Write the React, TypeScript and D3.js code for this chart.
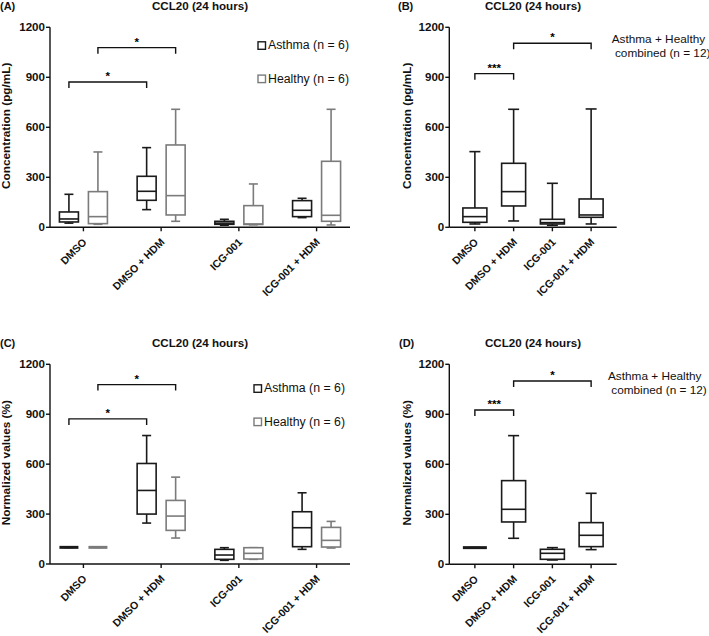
import React from "react";
import * as d3 from "d3";

const categories = ["DMSO", "DMSO + HDM", "ICG-001", "ICG-001 + HDM"];
const yTicks = [0, 300, 600, 900, 1200];

// box stats: [min, q1, median, q3, max]
const concAsthma = [
  [25, 32, 50, 92, 198],
  [106, 162, 216, 306, 478],
  [12, 18, 25, 36, 48],
  [58, 64, 102, 160, 174],
];
const concHealthy = [
  [18, 22, 64, 214, 452],
  [36, 74, 190, 494, 708],
  [15, 17, 20, 130, 260],
  [14, 36, 72, 396, 708],
];
const concCombined = [
  [20, 30, 64, 116, 454],
  [38, 128, 214, 384, 708],
  [12, 20, 28, 48, 264],
  [20, 60, 74, 170, 710],
];
const normAsthma = [
  [100, 100, 100, 100, 100],
  [246, 300, 442, 604, 772],
  [22, 28, 54, 88, 98],
  [88, 104, 218, 314, 428],
];
const normHealthy = [
  [100, 100, 100, 100, 100],
  [156, 202, 288, 382, 522],
  [28, 30, 64, 98, 98],
  [96, 102, 142, 220, 256],
];
const normCombined = [
  [100, 100, 100, 100, 100],
  [156, 254, 330, 502, 772],
  [26, 30, 66, 90, 100],
  [88, 106, 174, 250, 426],
];

// significance brackets: from category, to category, series index, level, label
const bracketsGrouped = [
  { from: 0, to: 1, series: 0, level: 872, label: "*" },
  { from: 0, to: 1, series: 1, level: 1078, label: "*" },
];
const bracketsCombinedConc = [
  { from: 0, to: 1, series: 0, level: 922, label: "***" },
  { from: 1, to: 3, series: 0, level: 1104, label: "*" },
];
const bracketsCombinedNorm = [
  { from: 0, to: 1, series: 0, level: 926, label: "***" },
  { from: 1, to: 3, series: 0, level: 1100, label: "*" },
];

const groupLegend = ["Asthma (n = 6)", "Healthy (n = 6)"];
const combinedLegend = ["Asthma + Healthy", "\u00a0combined (n = 12)"];

const FONT = "Liberation Sans, Arial, sans-serif";
const DARK = "#1a1a1a";
const GRAY = "#7b7b7b";

const T = (p: any) => <text {...p} style={{ fontFamily: FONT }} />;

type Series = { data: number[][]; color: string; offset: number };

function Panel(props: {
  letter: string;
  letterX: number;
  x0: number;
  x1: number;
  y0: number;
  y1: number;
  padding: number;
  yLabel: string;
  yLabelX: number;
  series: Series[];
  boxW: number;
  capW: number;
  brackets: { from: number; to: number; series: number; level: number; label: string }[];
  legend: React.ReactNode;
}) {
  const { x0, x1, y0, y1, padding, series, boxW, capW } = props;
  const x = d3.scalePoint<string>().domain(categories).range([x0, x1]).padding(padding);
  const y = d3.scaleLinear().domain([0, 1200]).range([y0, y1]);
  const titleY = y1 - 17.5;
  return (
    <g>
      <T x={props.letterX} y={titleY} fontSize={11} fontWeight="bold" fill="#111">
        {props.letter}
      </T>
      <T x={(x0 + x1) / 2} y={titleY} fontSize={11.6} fontWeight="bold" textAnchor="middle" fill="#111">
        CCL20 (24 hours)
      </T>
      <T
        transform={`translate(${props.yLabelX},${(y0 + y1) / 2 - 1.5}) rotate(-90)`}
        fontSize={11.8}
        fontWeight="bold"
        textAnchor="middle"
        fill="#111"
      >
        {props.yLabel}
      </T>
      {/* y axis */}
      <line x1={x0} x2={x0} y1={y0} y2={y1} stroke="#111" strokeWidth={1.4} />
      {yTicks.map((t) => (
        <g key={t}>
          <line x1={x0 - 4} x2={x0} y1={y(t)} y2={y(t)} stroke="#111" strokeWidth={1.4} />
          <T x={x0 - 5} y={y(t)} dy="0.36em" fontSize={11.6} fontWeight="bold" textAnchor="end" fill="#111">
            {t}
          </T>
        </g>
      ))}
      {/* x axis */}
      <line x1={x0} x2={x1} y1={y0} y2={y0} stroke="#111" strokeWidth={1.4} />
      {categories.map((c) => (
        <g key={c}>
          <line x1={x(c)!} x2={x(c)!} y1={y0} y2={y0 + 4} stroke="#111" strokeWidth={1.4} />
          <T
            transform={`translate(${x(c)! + 4},${y0 + 15.5}) rotate(-45)`}
            fontSize={10.6}
            fontWeight="bold"
            textAnchor="end"
            fill="#111"
          >
            {c}
          </T>
        </g>
      ))}
      {/* boxes */}
      {series.map((s, si) =>
        s.data.map((d, ci) => {
          const cx = x(categories[ci])! + s.offset;
          const [mn, q1, md, q3, mx] = d;
          return (
            <g key={`${si}-${ci}`} stroke={s.color} strokeWidth={1.6} fill="none">
              <line x1={cx} x2={cx} y1={y(q3)} y2={y(mx)} />
              <line x1={cx} x2={cx} y1={y(q1)} y2={y(mn)} />
              <line x1={cx - capW / 2} x2={cx + capW / 2} y1={y(mx)} y2={y(mx)} />
              <line x1={cx - capW / 2} x2={cx + capW / 2} y1={y(mn)} y2={y(mn)} />
              <rect x={cx - boxW / 2} y={y(q3)} width={boxW} height={Math.max(0, y(q1) - y(q3))} fill="#fff" />
              <line x1={cx - boxW / 2} x2={cx + boxW / 2} y1={y(md)} y2={y(md)} strokeWidth={q1 === q3 ? 3 : 1.6} />
            </g>
          );
        })
      )}
      {/* brackets */}
      {props.brackets.map((b, i) => {
        const off = series[b.series].offset;
        const xa = x(categories[b.from])! + off;
        const xb = x(categories[b.to])! + off;
        const yy = y(b.level);
        return (
          <g key={i}>
            <path d={`M${xa},${yy + 6}V${yy}H${xb}V${yy + 6}`} fill="none" stroke="#111" strokeWidth={1.4} />
            <T x={(xa + xb) / 2} y={yy - 2} fontSize={11.5} fontWeight="bold" textAnchor="middle" fill="#000" opacity={0.999}>
              {b.label}
            </T>
          </g>
        );
      })}
      {props.legend}
    </g>
  );
}

function GroupLegend({ x, y }: { x: number; y: number }) {
  const colors = [DARK, GRAY];
  return (
    <g>
      {groupLegend.map((t, i) => (
        <g key={t}>
          <rect x={x} y={y + i * 33.3 - 7.5} width={7.5} height={7.5} fill="#fff" stroke={colors[i]} strokeWidth={1.4} />
          <T x={x + 10} y={y + i * 33.3} fontSize={12.3} fill="#111">
            {t}
          </T>
        </g>
      ))}
    </g>
  );
}

function CombinedLegend({ x, y }: { x: number; y: number }) {
  return (
    <g>
      <T x={x} y={y} fontSize={11.8} fill="#111">
        {combinedLegend[0]}
      </T>
      <T x={x} y={y + 14} fontSize={11.8} fill="#111">
        {combinedLegend[1]}
      </T>
    </g>
  );
}

export default function App() {
  const offA = 14.5;
  return (
    <svg
      width={709}
      height={636}
      viewBox="0 0 709 636"
      style={{ position: "absolute", left: 0, top: 0, background: "#fff" }}
    >
      <rect width={709} height={636} fill="#fff" />
      <Panel
        letter="(A)"
        letterX={0}
        x0={50}
        x1={350}
        y0={227.3}
        y1={27.3}
        padding={0.43}
        yLabel="Concentration (pg/mL)"
        yLabelX={10}
        series={[
          { data: concAsthma, color: DARK, offset: -offA },
          { data: concHealthy, color: GRAY, offset: offA },
        ]}
        boxW={19}
        capW={9}
        brackets={bracketsGrouped}
        legend={<GroupLegend x={258} y={49.3} />}
      />
      <Panel
        letter="(B)"
        letterX={398}
        x0={449.3}
        x1={616.7}
        y0={227.3}
        y1={27.3}
        padding={0.66}
        yLabel="Concentration (pg/mL)"
        yLabelX={411}
        series={[{ data: concCombined, color: DARK, offset: 0 }]}
        boxW={24}
        capW={11}
        brackets={bracketsCombinedConc}
        legend={<CombinedLegend x={611.7} y={42.7} />}
      />
      <Panel
        letter="(C)"
        letterX={0}
        x0={50}
        x1={350}
        y0={564}
        y1={364.3}
        padding={0.43}
        yLabel="Normalized values (%)"
        yLabelX={10}
        series={[
          { data: normAsthma, color: DARK, offset: -offA },
          { data: normHealthy, color: GRAY, offset: offA },
        ]}
        boxW={19}
        capW={9}
        brackets={bracketsGrouped}
        legend={<GroupLegend x={254} y={392.3} />}
      />
      <Panel
        letter="(D)"
        letterX={399}
        x0={449.3}
        x1={616.7}
        y0={564.3}
        y1={364.3}
        padding={0.66}
        yLabel="Normalized values (%)"
        yLabelX={411}
        series={[{ data: normCombined, color: DARK, offset: 0 }]}
        boxW={24}
        capW={11}
        brackets={bracketsCombinedNorm}
        legend={<CombinedLegend x={608} y={380} />}
      />
    </svg>
  );
}
